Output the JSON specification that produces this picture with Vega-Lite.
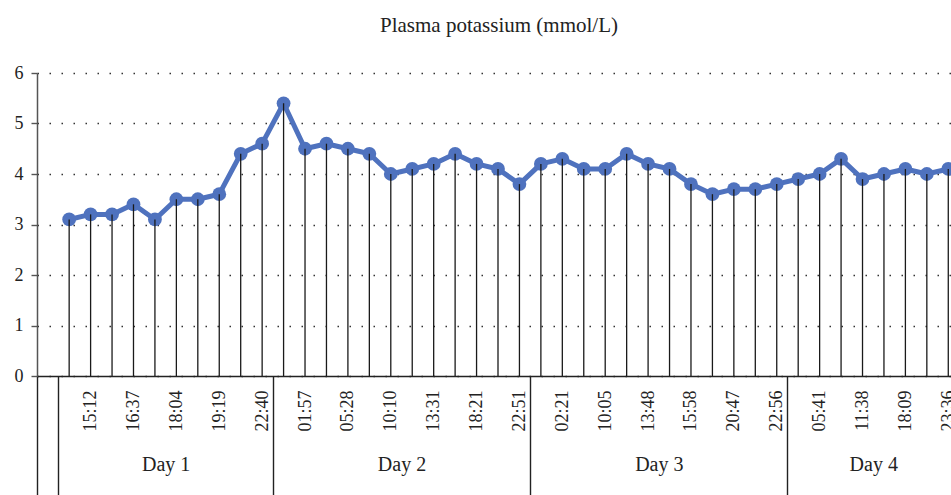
{
  "$schema": "https://vega.github.io/schema/vega-lite/v6.json",
  "autosize": "none",
  "width": 914,
  "height": 303,
  "padding": {"left": 37, "top": 73, "right": 0, "bottom": 119},
  "background": "white",
  "config": {
    "view": {"stroke": null},
    "font": "Liberation Serif"
  },
  "title": {
    "text": "Plasma potassium (mmol/L)",
    "font": "Liberation Serif",
    "fontSize": 21,
    "fontWeight": "normal",
    "color": "#222222",
    "anchor": "middle",
    "baseline": "alphabetic",
    "offset": 11,
    "dx": 5
  },
  "datasets": {
    "points": [
      {"key": "d1-1", "day": "Day 1", "potassium": 3.1},
      {"key": "15:12", "day": "Day 1", "potassium": 3.2},
      {"key": "d1-3", "day": "Day 1", "potassium": 3.2},
      {"key": "16:37", "day": "Day 1", "potassium": 3.4},
      {"key": "d1-5", "day": "Day 1", "potassium": 3.1},
      {"key": "18:04", "day": "Day 1", "potassium": 3.5},
      {"key": "d1-7", "day": "Day 1", "potassium": 3.5},
      {"key": "19:19", "day": "Day 1", "potassium": 3.6},
      {"key": "d1-9", "day": "Day 1", "potassium": 4.4},
      {"key": "22:40", "day": "Day 1", "potassium": 4.6},
      {"key": "d2-1", "day": "Day 2", "potassium": 5.4},
      {"key": "01:57", "day": "Day 2", "potassium": 4.5},
      {"key": "d2-3", "day": "Day 2", "potassium": 4.6},
      {"key": "05:28", "day": "Day 2", "potassium": 4.5},
      {"key": "d2-5", "day": "Day 2", "potassium": 4.4},
      {"key": "10:10", "day": "Day 2", "potassium": 4.0},
      {"key": "d2-7", "day": "Day 2", "potassium": 4.1},
      {"key": "13:31", "day": "Day 2", "potassium": 4.2},
      {"key": "d2-9", "day": "Day 2", "potassium": 4.4},
      {"key": "18:21", "day": "Day 2", "potassium": 4.2},
      {"key": "d2-11", "day": "Day 2", "potassium": 4.1},
      {"key": "22:51", "day": "Day 2", "potassium": 3.8},
      {"key": "d3-1", "day": "Day 3", "potassium": 4.2},
      {"key": "02:21", "day": "Day 3", "potassium": 4.3},
      {"key": "d3-3", "day": "Day 3", "potassium": 4.1},
      {"key": "10:05", "day": "Day 3", "potassium": 4.1},
      {"key": "d3-5", "day": "Day 3", "potassium": 4.4},
      {"key": "13:48", "day": "Day 3", "potassium": 4.2},
      {"key": "d3-7", "day": "Day 3", "potassium": 4.1},
      {"key": "15:58", "day": "Day 3", "potassium": 3.8},
      {"key": "d3-9", "day": "Day 3", "potassium": 3.6},
      {"key": "20:47", "day": "Day 3", "potassium": 3.7},
      {"key": "d3-11", "day": "Day 3", "potassium": 3.7},
      {"key": "22:56", "day": "Day 3", "potassium": 3.8},
      {"key": "d4-1", "day": "Day 4", "potassium": 3.9},
      {"key": "05:41", "day": "Day 4", "potassium": 4.0},
      {"key": "d4-3", "day": "Day 4", "potassium": 4.3},
      {"key": "11:38", "day": "Day 4", "potassium": 3.9},
      {"key": "d4-5", "day": "Day 4", "potassium": 4.0},
      {"key": "18:09", "day": "Day 4", "potassium": 4.1},
      {"key": "d4-7", "day": "Day 4", "potassium": 4.0},
      {"key": "23:36", "day": "Day 4", "potassium": 4.1}
    ],
    "days": [
      {"day": "Day 1", "start": 0.5, "mid": 5.5},
      {"day": "Day 2", "start": 10.5, "mid": 16.5},
      {"day": "Day 3", "start": 22.5, "mid": 28.5},
      {"day": "Day 4", "start": 34.5, "mid": 38.5}
    ]
  },
  "resolve": {"scale": {"x": "independent"}, "axis": {"x": "independent"}},
  "layer": [
    {
      "data": {"name": "days"},
      "mark": {"type": "rule", "opacity": 0},
      "encoding": {
        "x": {
          "field": "start",
          "type": "quantitative",
          "scale": {"domain": [-0.5, 42.5], "range": [0, 922], "nice": false, "zero": false},
          "axis": {
            "orient": "bottom",
            "values": [-0.5, 0.5, 10.5, 22.5, 34.5],
            "labels": false,
            "domain": false,
            "grid": false,
            "ticks": true,
            "tickSize": 125,
            "tickColor": "#222222",
            "tickWidth": 1.4,
            "title": null
          }
        }
      }
    },
    {
      "data": {"name": "days"},
      "mark": {"type": "rule", "opacity": 0},
      "encoding": {
        "x": {
          "field": "mid",
          "type": "quantitative",
          "scale": {"domain": [-0.5, 42.5], "range": [0, 922], "nice": false, "zero": false},
          "axis": {
            "orient": "bottom",
            "values": [5.5, 16.5, 28.5, 38.5],
            "labelExpr": "datum.value < 11 ? 'Day 1' : datum.value < 23 ? 'Day 2' : datum.value < 35 ? 'Day 3' : 'Day 4'",
            "labelFont": "Liberation Serif",
            "labelFontSize": 20,
            "labelColor": "#222222",
            "labelPadding": 78,
            "labelFlush": false,
            "labelOverlap": false,
            "domain": false,
            "grid": false,
            "ticks": false,
            "title": null
          }
        }
      }
    },
    {
      "data": {"name": "points"},
      "encoding": {
        "x": {
          "field": "key",
          "type": "ordinal",
          "scale": {
            "type": "point",
            "padding": 0.5,
            "range": [0, 922],
            "domain": ["", "d1-1", "15:12", "d1-3", "16:37", "d1-5", "18:04", "d1-7", "19:19", "d1-9", "22:40",
                       "d2-1", "01:57", "d2-3", "05:28", "d2-5", "10:10", "d2-7", "13:31", "d2-9", "18:21", "d2-11", "22:51",
                       "d3-1", "02:21", "d3-3", "10:05", "d3-5", "13:48", "d3-7", "15:58", "d3-9", "20:47", "d3-11", "22:56",
                       "d4-1", "05:41", "d4-3", "11:38", "d4-5", "18:09", "d4-7", "23:36"]
          },
          "axis": {
            "orient": "bottom",
            "labelExpr": "indexof(datum.value, ':') > 0 ? datum.value : ''",
            "labelAngle": 270,
            "labelFont": "Liberation Serif",
            "labelFontSize": 18,
            "labelColor": "#222222",
            "labelPadding": 14,
            "labelOverlap": false,
            "labelFlush": false,
            "labelBound": false,
            "ticks": false,
            "domain": true,
            "domainColor": "#222222",
            "domainWidth": 1.4,
            "grid": false,
            "title": null
          }
        },
        "y": {
          "field": "potassium",
          "type": "quantitative",
          "scale": {"domain": [0, 6], "nice": false},
          "axis": {
            "values": [0, 1, 2, 3, 4, 5, 6],
            "labelFont": "Liberation Serif",
            "labelFontSize": 18,
            "labelColor": "#222222",
            "labelPadding": 8,
            "tickSize": 6,
            "tickColor": "#555555",
            "tickWidth": 1.4,
            "domainColor": "#555555",
            "domainWidth": 1.5,
            "grid": true,
            "gridColor": "#333333",
            "gridWidth": 1.5,
            "gridDash": [1.5, 10.5],
            "title": null
          }
        }
      },
      "layer": [
        {
          "mark": {"type": "line", "color": "#4f72be", "strokeWidth": 5, "strokeJoin": "round", "strokeCap": "round"}
        },
        {
          "mark": {"type": "point", "filled": true, "color": "#4f72be", "size": 190, "opacity": 1}
        },
        {
          "mark": {"type": "rule", "color": "#1a1a1a", "strokeWidth": 1.3},
          "encoding": {"y2": {"datum": 0}}
        }
      ]
    }
  ]
}
